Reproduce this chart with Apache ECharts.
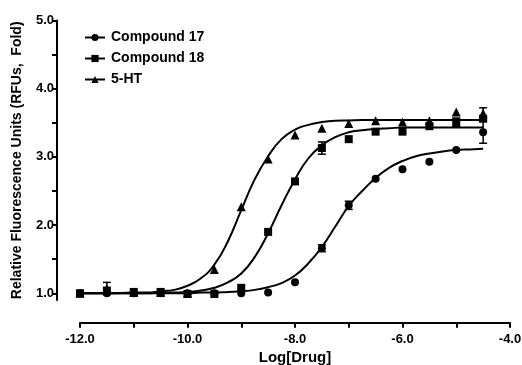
<!DOCTYPE html>
<html>
<head>
<meta charset="utf-8">
<script src="https://cdn.jsdelivr.net/npm/echarts@6/dist/echarts.min.js"></script>
<style>
  html, body { margin: 0; padding: 0; background: #fff; }
  #chart { width: 522px; height: 365px; }
</style>
</head>
<body>
<div id="chart"></div>
<script>
// log concentrations of the measured points
const doses = [-12, -11.5, -11, -10.5, -10, -9.5, -9, -8.5, -8, -7.5, -7, -6.5, -6, -5.5, -5, -4.5];

const cmpd17 = [1.0, 1.0, 1.0, 1.0, 1.0, 1.0, 1.0, 1.01, 1.16, 1.66, 2.29, 2.68, 2.82, 2.93, 3.10, 3.36];
const cmpd18 = [1.0, 1.04, 1.02, 1.02, 0.99, 0.99, 1.08, 1.90, 2.64, 3.13, 3.26, 3.37, 3.37, 3.45, 3.51, 3.56];
const serot  = [1.0, 1.07, 1.01, 1.01, 1.0, 1.35, 2.27, 2.97, 3.32, 3.42, 3.49, 3.53, 3.51, 3.53, 3.66, 3.64];

// error bars: [logDose, low, high]
const err17 = [[-7.5, 1.61, 1.71], [-7, 2.23, 2.35], [-4.5, 3.20, 3.52]];
const err18 = [[-7.5, 3.04, 3.22], [-5, 3.45, 3.57]];
const errHT = [[-11.5, 0.98, 1.16], [-4.5, 3.56, 3.72]];

// fitted curves, sampled along x
const curveX = [-12, -11.5, -11, -10.75, -10.5, -10.25, -10, -9.75, -9.5, -9.25, -9, -8.75, -8.5, -8.25,
  -8, -7.75, -7.5, -7.25, -7, -6.75, -6.5, -6.25, -6, -5.75, -5.5, -5.25, -5, -4.75, -4.5];
const fit17 = [1.0, 1.0, 1.0, 1.0, 1.0, 1.0, 1.0, 1.01, 1.01, 1.02, 1.03, 1.05, 1.09, 1.15,
  1.26, 1.44, 1.68, 1.98, 2.28, 2.50, 2.69, 2.84, 2.94, 3.01, 3.05, 3.08, 3.10, 3.11, 3.12];
const fit18 = [1.0, 1.0, 1.0, 1.0, 1.01, 1.01, 1.02, 1.04, 1.08, 1.16, 1.29, 1.53, 1.88, 2.29,
  2.67, 2.98, 3.17, 3.29, 3.36, 3.39, 3.41, 3.42, 3.43, 3.43, 3.43, 3.43, 3.43, 3.43, 3.43];
const fitHT = [1.0, 1.0, 1.01, 1.01, 1.03, 1.05, 1.11, 1.22, 1.42, 1.76, 2.22, 2.67, 3.01, 3.26,
  3.40, 3.47, 3.51, 3.53, 3.535, 3.54, 3.54, 3.54, 3.54, 3.54, 3.54, 3.54, 3.54, 3.54, 3.54];

// axis ticks and labels
const xLabels = [-12, -10, -8, -6, -4];
const yTicks = [1, 1.5, 2, 2.5, 3, 3.5, 4, 4.5, 5];
const yLabels = [1, 2, 3, 4, 5];

const FONT = "Liberation Sans";

const pairs = (xs, ys) => xs.map((x, i) => [x, ys[i]]);

function errorBars(name, data) {
  return {
    type: "custom",
    name,
    data,
    z: 3,
    renderItem: (params, api) => {
      const lo = api.coord([api.value(0), api.value(1)]);
      const hi = api.coord([api.value(0), api.value(2)]);
      const hw = 4;
      const st = { stroke: "#000", lineWidth: 1.5 };
      return {
        type: "group",
        children: [
          { type: "line", shape: { x1: lo[0], y1: lo[1], x2: hi[0], y2: hi[1] }, style: st },
          { type: "line", shape: { x1: lo[0] - hw, y1: lo[1], x2: lo[0] + hw, y2: lo[1] }, style: st },
          { type: "line", shape: { x1: hi[0] - hw, y1: hi[1], x2: hi[0] + hw, y2: hi[1] }, style: st },
        ],
      };
    },
  };
}

function curve(name, ys, symbol, size) {
  return {
    type: "line",
    name,
    data: pairs(curveX, ys),
    smooth: true,
    showSymbol: false,
    symbol,
    symbolSize: size,
    itemStyle: { color: "#000", opacity: 1 },
    lineStyle: { color: "#000", width: 2 },
    z: 2,
  };
}

function points(name, ys, symbol, size) {
  return {
    type: "scatter",
    name,
    data: pairs(doses, ys),
    symbol,
    symbolSize: size,
    itemStyle: { color: "#000", opacity: 1 },
    z: 4,
    clip: false,
  };
}

// bold black tick labels
const tickLabel = (values, margin) => ({
  customValues: values,
  margin,
  color: "#000",
  fontSize: 13,
  fontWeight: "bold",
  fontFamily: FONT,
  formatter: (v) => v.toFixed(1),
});

const chart = echarts.init(document.getElementById("chart"), null, { renderer: "canvas" });

chart.setOption({
  backgroundColor: "#fff",
  animation: false,
  textStyle: { fontFamily: FONT },
  grid: { left: 80, right: 12, top: 20.5, bottom: 64.9, outerBoundsMode: "none", containLabel: false },
  legend: {
    left: 79, top: 25.5, orient: "vertical",
    itemWidth: 20, itemHeight: 9, itemGap: 7,
    data: ["Compound 17", "Compound 18", "5-HT"],
    textStyle: { color: "#000", fontSize: 14, fontWeight: "bold", fontFamily: FONT, padding: [0, 0, 0, 1] },
  },
  xAxis: {
    type: "value", min: -12, max: -4, interval: 1,
    position: "bottom", offset: 22.6,
    name: "Log[Drug]", nameLocation: "middle", nameGap: 28,
    nameTextStyle: { color: "#000", fontSize: 15, fontWeight: "bold", fontFamily: FONT },
    axisLine: { onZero: false, lineStyle: { color: "#000", width: 2 } },
    axisTick: { length: 5, lineStyle: { color: "#000", width: 2 } },
    axisLabel: tickLabel(xLabels, 10),
    splitLine: { show: false },
  },
  yAxis: {
    type: "value", min: 0.9, max: 5,
    offset: 23,
    name: "Relative Fluorescence Units (RFUs,  Fold)", nameLocation: "middle", nameGap: 33,
    nameTextStyle: { color: "#000", fontSize: 14, fontWeight: "bold", fontFamily: FONT },
    axisLine: { show: true, onZero: false, lineStyle: { color: "#000", width: 2 } },
    axisTick: { show: true, length: 5, customValues: yTicks, lineStyle: { color: "#000", width: 2 } },
    axisLabel: tickLabel(yLabels, 3),
    splitLine: { show: false },
  },
  series: [
    curve("Compound 17", fit17, "circle", 8),
    curve("Compound 18", fit18, "rect", 8),
    curve("5-HT", fitHT, "triangle", 9),
    errorBars("Compound 17", err17),
    errorBars("Compound 18", err18),
    errorBars("5-HT", errHT),
    points("Compound 17", cmpd17, "circle", 8),
    points("Compound 18", cmpd18, "rect", 8),
    points("5-HT", serot, "triangle", 9),
  ],
});
</script>
</body>
</html>
